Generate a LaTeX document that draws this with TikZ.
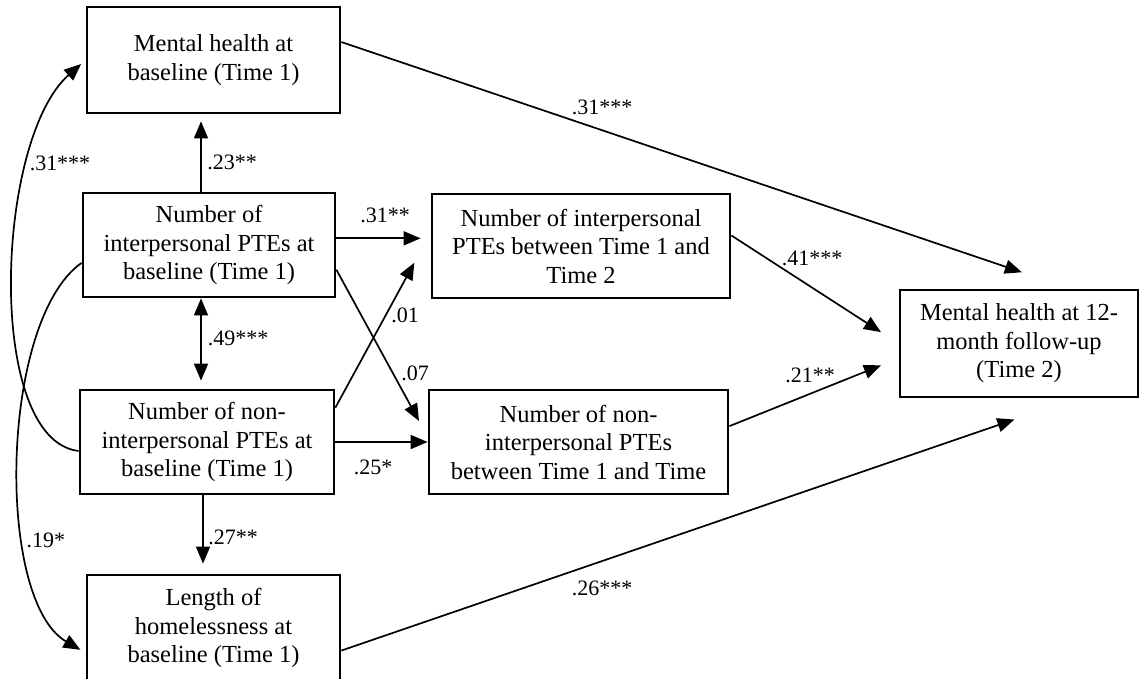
\documentclass[tikz,border=0pt]{standalone}
\usepackage{fontspec}
\setmainfont{Liberation Serif}
\usetikzlibrary{arrows.meta, calc}

\begin{document}
\begin{tikzpicture}[
    x=1pt, y=-1pt,
    % Node styles
    varbox/.style={
        rectangle, draw=black, fill=white, line width=2.8pt,
        inner sep=0pt, align=center,
        font=\fontsize{24.5}{28.5}\selectfont
    },
    % Edge styles
    pathedge/.style={
        -{Triangle[length=17pt, width=14pt]}, line width=1.7pt
    },
    covedge/.style={
        {Triangle[length=17pt, width=14pt]}-{Triangle[length=17pt, width=14pt]},
        line width=1.7pt
    },
    % Label styles
    coef/.style={
        font=\fontsize{22}{26}\selectfont, inner sep=0pt
    }
]

\useasboundingbox (0,0) rectangle (1141,678);

% ============ BASELINE (TIME 1) ============
\node[varbox, minimum width=253pt, minimum height=106pt] (mhbase) at (213.5,60) {
    Mental health at\\baseline (Time 1)
};
\node[varbox, minimum width=252pt, minimum height=104pt] (interbase) at (209,245) {
    Number of\\interpersonal PTEs at\\baseline (Time 1)
};
\node[varbox, minimum width=254pt, minimum height=104pt] (noninterbase) at (207,442) {
    Number of non-\\interpersonal PTEs at\\baseline (Time 1)
};
\node[varbox, minimum width=253pt, minimum height=106pt] (length) at (213.5,628) {
    Length of\\homelessness at\\baseline (Time 1)
};

% ============ BETWEEN TIME 1 AND TIME 2 ============
\node[varbox, minimum width=298pt, minimum height=104pt] (interbetween) at (581,246) {
    Number of interpersonal\\PTEs between Time 1 and\\Time 2
};
\node[varbox, minimum width=299pt, minimum height=104pt] (noninterbetween) at (578.5,442) {
    Number of non-\\interpersonal PTEs\\between Time 1 and Time
};

% ============ FOLLOW-UP (TIME 2) ============
\node[varbox, minimum width=238pt, minimum height=107pt] (mhfollow) at (1019,343.5) {
    Mental health at 12-\\month follow-up\\(Time 2)
};

% ============ EDGES ============
% Within baseline
\draw[pathedge, shorten >=7pt] ([xshift=-8pt]interbase.north) -- ([xshift=-12.5pt]mhbase.south);
\draw[covedge, shorten >=8pt] ([xshift=-8pt]interbase.south) -- ([xshift=-6pt]noninterbase.north);
\draw[pathedge, shorten >=10pt] ([xshift=-4pt]noninterbase.south) -- ([xshift=-10.5pt]length.north);

% Curved paths on the left
\draw[pathedge, shorten >=6pt] (noninterbase.184) .. controls (-15,440) and (-5,140) .. (mhbase.west);
\draw[pathedge, shorten >=6pt] (interbase.188) .. controls (0,320) and (-5,600) .. (length.191);

% Baseline to between
\draw[pathedge, shorten >=10pt] (interbase.3) -- (interbase.3 -| interbetween.west);
\draw[pathedge, shorten >=18pt] (interbase.-11) -- (noninterbetween.178);
\draw[pathedge, shorten >=34pt] (noninterbase.15) -- (interbetween.175);
\draw[pathedge] (noninterbase.east) -- (noninterbetween.west);

% To follow-up
\draw[pathedge, shorten >=51pt] (mhbase.8) -- (mhfollow.47);
\draw[pathedge, shorten >=21pt] (interbetween.4) -- (mhfollow.west);
\draw[pathedge, shorten >=19pt] (noninterbetween.6) -- (mhfollow.187);
\draw[pathedge, shorten >=65pt] (length.-10) -- (mhfollow.-44);

% ============ COEFFICIENTS ============
\node[coef] (c1) at (60,163) {.31***};
\node[coef] (c2) at (232,162) {.23**};
\node[coef] (c3) at (385,215) {.31**};
\node[coef] (c4) at (405,315) {.01};
\node[coef] (c5) at (415,373) {.07};
\node[coef] (c6) at (238,338) {.49***};
\node[coef] (c7) at (373,467) {.25*};
\node[coef] (c8) at (233,537) {.27**};
\node[coef] (c9) at (46,540) {.19*};
\node[coef] (c10) at (602,107) {.31***};
\node[coef] (c11) at (812,258) {.41***};
\node[coef] (c12) at (810,375) {.21**};
\node[coef] (c13) at (602,588) {.26***};

\end{tikzpicture}
\end{document}
